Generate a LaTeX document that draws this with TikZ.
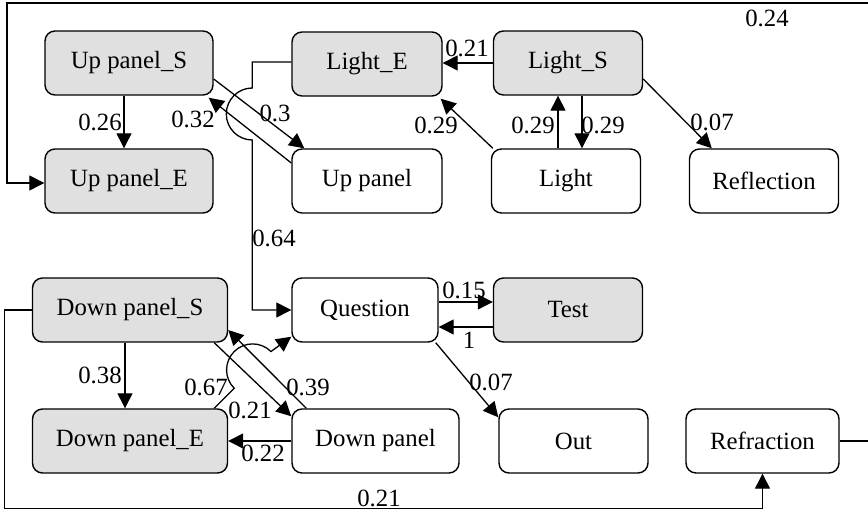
\documentclass[tikz,border=0pt]{standalone}
\usepackage{fontspec}
\setmainfont{Liberation Serif}
\usetikzlibrary{arrows.meta,calc}
\definecolor{boxgray}{RGB}{224,224,224}
\begin{document}
\begin{tikzpicture}[x=0.5pt,y=-0.5pt,
 box/.style={draw, rounded corners=5pt, line width=0.7pt, minimum height=32pt, inner sep=0pt, font=\fontsize{12.4}{14}\selectfont},
 sbox/.style={box, fill=boxgray},
 arr/.style={line width=0.65pt, -{Triangle[length=7.5pt,width=7.5pt]}},
 lbl/.style={inner sep=0pt, font=\fontsize{12.4}{14}\selectfont}]
\useasboundingbox (0,0) rectangle (868,512);
\clip (0,0) rectangle (868,512);
\fill[white] (0,0) rectangle (868,512);

\node[sbox, minimum width=84pt] (UPS) at (129,63) {Up panel\_S};
\node[sbox, minimum width=75pt] (LE) at (367,64) {Light\_E};
\node[sbox, minimum width=74.5pt] (LS) at (568,63) {Light\_S};
\node[sbox, minimum width=84pt] (UPE) at (129,181) {Up panel\_E};
\node[box, minimum width=75pt] (UP) at (367,181) {Up panel};
\node[box, minimum width=74.5pt] (L) at (566,181) {Light};
\node[box, minimum width=74.5pt] (R) at (764,181) {Reflection};
\node[sbox, minimum width=97.5pt] (DPS) at (130,310) {Down panel\_S};
\node[box, minimum width=73pt] (Q) at (365,310) {Question};
\node[sbox, minimum width=74.5pt] (T) at (568,310) {Test};
\node[sbox, minimum width=97.5pt] (DPE) at (130,441) {Down panel\_E};
\node[box, minimum width=83.5pt] (DP) at (375.5,441) {Down panel};
\node[box, minimum width=74.5pt] (O) at (573.5,441) {Out};
\node[box, minimum width=76.5pt] (RF) at (762.5,441) {Refraction};

\coordinate (cr) at (871,3);
\coordinate (cl) at (7,3);

% upper part
\draw[arr] ($(UPS.south)+(-5,0)$) -- ($(UPE.north)+(-5,0)$);
\draw[arr] (RF.east) -| (cr) -- (cl) |- ($(UPE.west)+(0,2)$);
\draw[arr] ($(UPS.east)+(0,16)$) -- ($(UP.north west)+(13,0)$);
\draw[arr] ($(UP.west)+(0,-18)$) -- ($(UPS.south east)+(-5,2)$);
\draw[arr] ($(LE.west)+(0,-2)$) -- ++(-39,0) -- ++(0,26)
   arc[start angle=90,end angle=270,radius=13pt] |- (Q.west);
\draw[arr] (LS.west) -- (LS.west -| LE.east);
\draw[arr] ($(L.north west)+(2,0)$) -- ($(LE.south east)+(-2,2)$);
\draw[arr] ($(L.north)+(-8,0)$) -- ($(LS.south)+(-10,0)$);
\draw[arr] ($(LS.south)+(14,0)$) -- ($(L.north)+(16,0)$);
\draw[arr] ($(LS.east)+(0,16)$) -- ($(R.north west)+(23,0)$);

% lower part
\draw[arr] ($(DPS.south)+(-5,0)$) -- ($(DPE.north)+(-5,0)$);
\draw[arr] ($(DPS.south east)+(-14,0)$) -- ($(DP.north west)+(0,8)$);
\draw[arr] ($(DP.north west)+(15,0)$) -- ($(DPS.east)+(0,20)$);
\draw[arr] ($(DPE.north east)+(-14,0)$) -- ++(20,-20)
   arc[start angle=225,end angle=45,radius=13pt] -- ($(Q.south west)+(0,-6)$);
\draw[arr] ($(Q.east)+(0,-8)$) -- ($(T.west)+(0,-8)$);
\draw[arr] ($(T.west)+(0,17)$) -- ($(Q.east)+(0,17)$);
\draw[arr] ($(Q.south east)+(-3,0)$) -- ($(O.north west)+(0,9)$);
\draw[arr] (DP.west) -- (DP.west -| DPE.east);
\draw[arr] (DPS.west) -- ++(-27.5,0) |- ($(RF.south)+(0,35)$) -- (RF.south);

% labels
\node[lbl] (l1) at (767,18) {0.24};
\node[lbl] (l2) at (100,122) {0.26};
\node[lbl] (l3) at (193,119) {0.32};
\node[lbl] (l4) at (275,113) {0.3};
\node[lbl] (l5) at (467,48) {0.21};
\node[lbl] (l6) at (436,125) {0.29};
\node[lbl] (l7) at (533,125) {0.29};
\node[lbl] (l8) at (603,125) {0.29};
\node[lbl] (l9) at (712,122) {0.07};
\node[lbl] (l10) at (274,238) {0.64};
\node[lbl] (l11) at (100,375) {0.38};
\node[lbl] (l12) at (206,387) {0.67};
\node[lbl] (l13) at (250,410) {0.21};
\node[lbl] (l14) at (308,387) {0.39};
\node[lbl] (l15) at (263,453) {0.22};
\node[lbl] (l16) at (379,498) {0.21};
\node[lbl] (l17) at (464,290) {0.15};
\node[lbl] (l18) at (469,340) {1};
\node[lbl] (l19) at (491,382) {0.07};
\end{tikzpicture}
\end{document}
